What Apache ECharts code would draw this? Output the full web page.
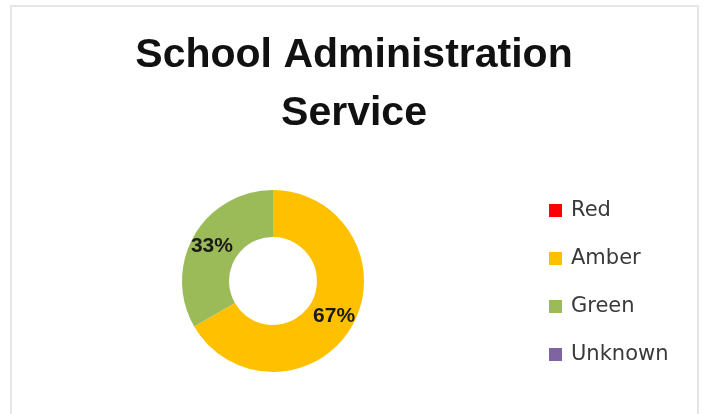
<!DOCTYPE html>
<html>
<head>
<meta charset="utf-8">
<script src="https://cdn.jsdelivr.net/npm/echarts@6/dist/echarts.min.js"></script>
<style>html,body{margin:0;padding:0;background:#fff;}#c{width:704px;height:414px;}</style>
</head>
<body>
<div id="c"></div>
<script>
var categories = ['Red', 'Amber', 'Green', 'Unknown'];
var values = [0, 2, 1, 0];
var colors = ['#FF0000', '#FFC000', '#9BBB59', '#8064A2'];
var titleText = 'School Administration\nService';

var chart = echarts.init(document.getElementById('c'));
chart.setOption({
  animation: false,
  backgroundColor: '#ffffff',
  graphic: [{
    type: 'rect',
    shape: { x: 11, y: 6, width: 687, height: 420 },
    style: { fill: 'none', stroke: '#e6e6e6', lineWidth: 2 },
    silent: true
  }],
  title: {
    text: titleText,
    left: 354,
    top: 27,
    textAlign: 'center',
    padding: 0,
    textStyle: {
      fontFamily: 'Liberation Sans',
      fontWeight: 'bold',
      fontSize: 41,
      lineHeight: 58,
      color: '#111111'
    }
  },
  legend: {
    orient: 'vertical',
    left: 549,
    top: 200,
    padding: 0,
    icon: 'rect',
    itemWidth: 13,
    itemHeight: 13,
    itemGap: 27,
    selectedMode: false,
    data: categories,
    textStyle: {
      fontFamily: 'DejaVu Sans',
      fontSize: 21,
      lineHeight: 21,
      color: '#3a3a3a',
      padding: [0, 0, 0, 4]
    }
  },
  series: [{
    type: 'pie',
    center: [273, 281],
    radius: [44, 91],
    startAngle: 90,
    clockwise: true,
    avoidLabelOverlap: false,
    silent: true,
    label: {
      show: true,
      position: 'inside',
      fontFamily: 'Liberation Sans',
      fontWeight: 'bold',
      fontSize: 21,
      color: '#1a1a1a',
      formatter: function (p) { return p.value > 0 ? Math.round(p.percent) + '%' : ''; }
    },
    labelLine: { show: false },
    itemStyle: { borderWidth: 0 },
    data: categories.map(function (c, i) {
      return { name: c, value: values[i], itemStyle: { color: colors[i] } };
    })
  }]
});
</script>
</body>
</html>
